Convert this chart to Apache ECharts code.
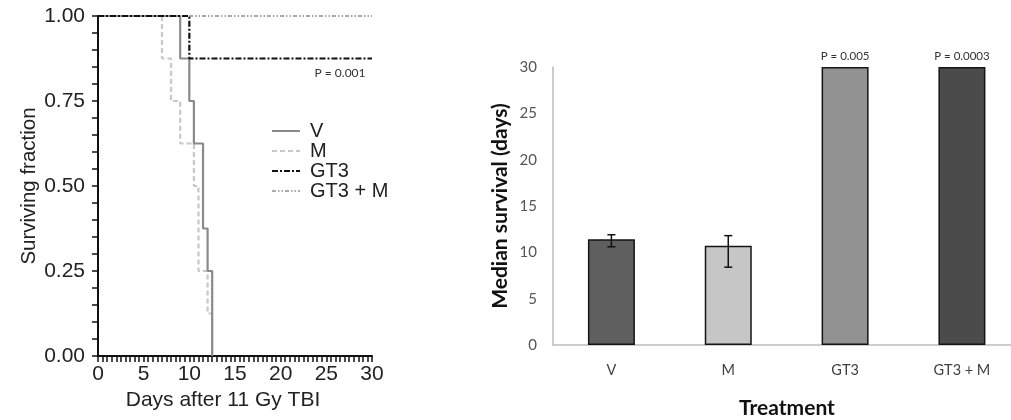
<!DOCTYPE html>
<html>
<head>
<meta charset="utf-8">
<script src="https://cdn.jsdelivr.net/npm/echarts@6/dist/echarts.min.js"></script>
<style>html,body{margin:0;padding:0;background:#fff;}#c{width:1011px;height:420px;}</style>
</head>
<body>
<div id="c"></div>
<script>
// ---- Left panel: Kaplan-Meier survival ----
const vDays = [0, 9, 10, 10.5, 11.5, 12, 12.5];
const vSurv = [1, 0.875, 0.75, 0.625, 0.375, 0.25, 0];
const mDays = [0, 7, 8, 9, 10.5, 11, 12, 12.5];
const mSurv = [1, 0.875, 0.75, 0.625, 0.5, 0.25, 0.125, 0];
const gt3Days = [0, 10, 30];
const gt3Surv = [1, 0.875, 0.875];
const gt3mDays = [0, 30];
const gt3mSurv = [1, 1];
const kmNames = ['V', 'M', 'GT3', 'GT3 + M'];
const kmPText = 'P = 0.001';
const kmPAt = [26.5, 0.875];

// ---- Right panel: median survival ----
const treatments = ['V', 'M', 'GT3', 'GT3 + M'];
const treatmentIdx = [0, 1, 2, 3];
const medianSurvival = [11.4, 10.7, 30, 30];
const errLow = [10.6, 8.4, null, null];
const errHigh = [11.9, 11.8, null, null];
const pValues = ['', '', 'P = 0.005', 'P = 0.0003'];
const barColors = ['#5f5f5f', '#c6c6c6', '#929292', '#4b4b4b'];

const zip = (a, b) => a.map((x, i) => [x, b[i]]);
const leftFont = 'Liberation Sans, Arial, sans-serif';
const rightFont = 'Lato, Open Sans, sans-serif';

const chart = echarts.init(document.getElementById('c'));
chart.setOption({
  animation: false,
  backgroundColor: '#fff',
  grid: [
    { left: 98, right: 639, top: 16, bottom: 64, outerBoundsMode: 'none', containLabel: false },
    { left: 553, right: 0, top: 67, bottom: 75, outerBoundsMode: 'none', containLabel: false }
  ],
  legend: {
    data: kmNames,
    orient: 'vertical',
    left: 266, top: 116,
    itemWidth: 28, itemHeight: 12, itemGap: 0,
    itemStyle: { opacity: 0 },
    textStyle: { fontFamily: leftFont, fontSize: 20, color: '#222', padding: [0, 0, 0, 5] },
    selectedMode: false
  },
  xAxis: [
    {
      gridIndex: 0, type: 'value', min: 0, max: 30, interval: 5,
      name: 'Days after 11 Gy TBI', nameLocation: 'middle', nameGap: 21,
      nameTextStyle: { fontFamily: leftFont, fontSize: 21, color: '#222', padding: [0, 24, 0, 0] },
      axisLine: { show: true, onZero: false, lineStyle: { color: '#111', width: 2 } },
      axisTick: { show: true, inside: false, length: 6, lineStyle: { color: '#111', width: 1.5 } },
      minorTick: { show: true, splitNumber: 10, length: 6, lineStyle: { color: '#111', width: 1.5 } },
      axisLabel: { fontFamily: leftFont, fontSize: 21, color: '#222', margin: 8 },
      splitLine: { show: false }
    },
    {
      gridIndex: 1, type: 'value', min: -0.5, max: 3.42,
      name: 'Treatment', nameLocation: 'middle', nameGap: 53,
      nameTextStyle: { fontFamily: rightFont, fontSize: 21, fontWeight: 'bold', color: '#111', padding: [0, 0, 0, 10] },
      axisLine: { show: true, onZero: false, lineStyle: { color: '#bdbdbd', width: 1.5 } },
      axisTick: { show: false },
      axisLabel: { fontFamily: rightFont, fontSize: 14.5, color: '#404040', margin: 18,
        customValues: treatmentIdx, formatter: v => treatments[Math.round(v)] },
      splitLine: { show: false }
    }
  ],
  yAxis: [
    {
      gridIndex: 0, type: 'value', min: 0, max: 1, interval: 0.25,
      name: 'Surviving fraction', nameLocation: 'middle', nameGap: 57,
      nameTextStyle: { fontFamily: leftFont, fontSize: 20.5, color: '#222' },
      axisLine: { show: true, onZero: false, lineStyle: { color: '#111', width: 2 } },
      axisTick: { show: true, inside: false, length: 6, lineStyle: { color: '#111', width: 1.5 } },
      minorTick: { show: true, splitNumber: 5, length: 6, lineStyle: { color: '#111', width: 1.5 } },
      axisLabel: { fontFamily: leftFont, fontSize: 21, color: '#222', margin: 13, formatter: v => v.toFixed(2) },
      splitLine: { show: false }
    },
    {
      gridIndex: 1, type: 'value', min: 0, max: 30, interval: 5,
      name: 'Median survival (days)', nameLocation: 'middle', nameGap: 42,
      nameTextStyle: { fontFamily: rightFont, fontSize: 21, fontWeight: 'bold', color: '#111' },
      axisLine: { show: true, onZero: false, lineStyle: { color: '#bdbdbd', width: 1.5 } },
      axisTick: { show: false },
      axisLabel: { fontFamily: rightFont, fontSize: 15, color: '#555', margin: 16 },
      splitLine: { show: false }
    }
  ],
  series: [
    {
      name: kmNames[0], type: 'line', step: 'end', xAxisIndex: 0, yAxisIndex: 0,
      data: zip(vDays, vSurv), symbol: 'none', z: 3,
      lineStyle: { color: '#8a8a8a', width: 2.2, type: 'solid' }, itemStyle: { color: '#8a8a8a' }
    },
    {
      name: kmNames[1], type: 'line', step: 'end', xAxisIndex: 0, yAxisIndex: 0,
      data: zip(mDays, mSurv), symbol: 'none', z: 2,
      lineStyle: { color: '#c8c8c8', width: 2.2, type: [5, 3] }, itemStyle: { color: '#c8c8c8' }
    },
    {
      name: kmNames[2], type: 'line', step: 'end', xAxisIndex: 0, yAxisIndex: 0,
      data: zip(gt3Days, gt3Surv), symbol: 'none', z: 4,
      lineStyle: { color: '#111', width: 2.2, type: [6, 2, 2, 2] }, itemStyle: { color: '#111' },
      markPoint: {
        symbol: 'circle', symbolSize: 0,
        data: [{ coord: kmPAt, value: kmPText }],
        label: { show: true, position: 'bottom', distance: 9, formatter: kmPText,
          fontFamily: rightFont, fontSize: 12, color: '#333' }
      }
    },
    {
      name: kmNames[3], type: 'line', step: 'end', xAxisIndex: 0, yAxisIndex: 0,
      data: zip(gt3mDays, gt3mSurv), symbol: 'none', z: 1,
      lineStyle: { color: '#aaaaaa', width: 2, type: [4, 2, 1.5, 2, 1.5, 2] }, itemStyle: { color: '#aaaaaa' }
    },
    {
      type: 'bar', xAxisIndex: 1, yAxisIndex: 1, barWidth: 47,
      data: medianSurvival.map((v, i) => ({ value: [treatmentIdx[i], v], itemStyle: { color: barColors[i] } })),
      itemStyle: { borderColor: '#151515', borderWidth: 1.5 },
      label: { show: true, position: 'top', distance: 5, fontFamily: rightFont, fontSize: 11.5, color: '#333',
        formatter: p => pValues[p.dataIndex] }
    },
    {
      type: 'custom', xAxisIndex: 1, yAxisIndex: 1, z: 10,
      data: treatmentIdx.map(i => [i, errLow[i], errHigh[i]]).filter(d => d[1] != null),
      renderItem: (params, api) => {
        const lo = api.coord([api.value(0), api.value(1)]);
        const hi = api.coord([api.value(0), api.value(2)]);
        const w = 4;
        const st = { stroke: '#111', lineWidth: 1.5 };
        return { type: 'group', children: [
          { type: 'line', shape: { x1: lo[0], y1: lo[1], x2: hi[0], y2: hi[1] }, style: st },
          { type: 'line', shape: { x1: lo[0] - w, y1: lo[1], x2: lo[0] + w, y2: lo[1] }, style: st },
          { type: 'line', shape: { x1: hi[0] - w, y1: hi[1], x2: hi[0] + w, y2: hi[1] }, style: st }
        ] };
      }
    }
  ]
});
</script>
</body>
</html>
